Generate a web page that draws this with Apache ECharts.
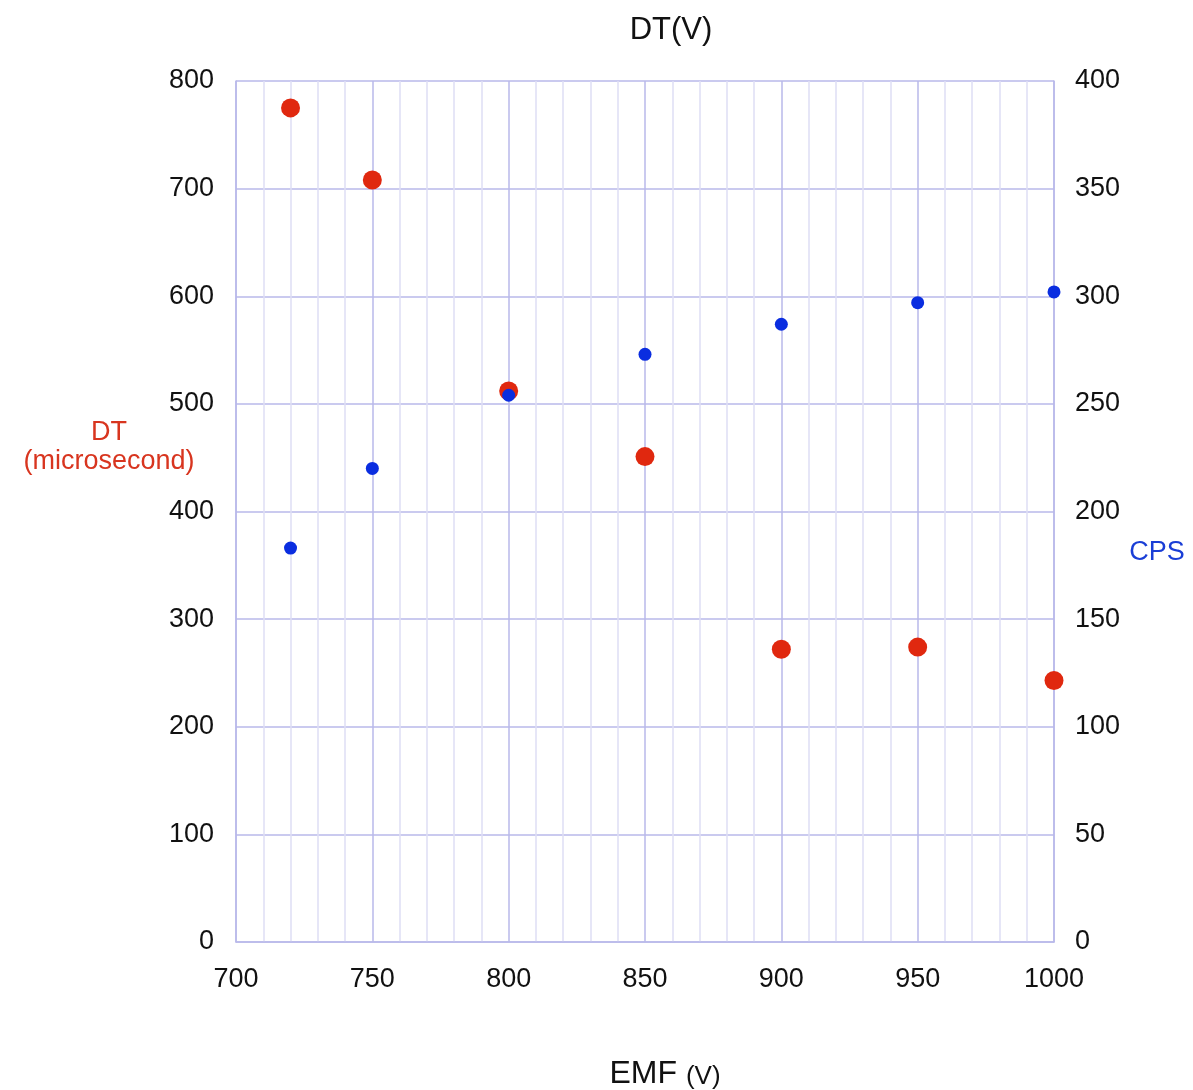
<!DOCTYPE html>
<html>
<head>
<meta charset="utf-8">
<script src="https://cdn.jsdelivr.net/npm/echarts@6/dist/echarts.min.js"></script>
<style>
  html, body { margin: 0; padding: 0; background: #fff; overflow: hidden; }
  #chart { width: 1193px; height: 1090px; }
</style>
</head>
<body>
<div id="chart"></div>
<script>
// EMF (V) values
var emf = [720, 750, 800, 850, 900, 950, 1000];
// DT (microsecond) - left axis
var dtValues = [775, 708, 512, 451, 272, 274, 243];
// CPS - right axis
var cpsValues = [183, 220, 254, 273, 287, 297, 302];

var gridColor = '#b9b9ea';
var minorColor = '#dedef5';
var font = 'Liberation Sans, Arial, sans-serif';

function pairs(xs, ys) {
  var out = [];
  for (var i = 0; i < xs.length; i++) out.push([xs[i], ys[i]]);
  return out;
}

var chart = echarts.init(document.getElementById('chart'));
chart.setOption({
  animation: false,
  backgroundColor: '#fff',
  textStyle: { fontFamily: font },
  title: {
    text: 'DT(V)',
    left: 666,
    textAlign: 'center',
    top: 10,
    textStyle: { fontSize: 31, fontWeight: 'normal', color: '#111', fontFamily: font }
  },
  grid: { left: 236, right: 139, top: 81, bottom: 148, outerBoundsMode: 'none', containLabel: false },
  xAxis: {
    type: 'value',
    min: 700, max: 1000, interval: 50,
    name: 'EMF {s|(V)}',
    nameLocation: 'middle',
    nameGap: 116,
    nameTextStyle: {
      fontSize: 32, color: '#111', fontFamily: font,
      padding: [0, 0, 0, 40],
      rich: { s: { fontSize: 26, color: '#111', fontFamily: font, padding: [6, 0, 0, 0] } }
    },
    axisLine: { show: true, lineStyle: { color: gridColor, width: 1.5 } },
    axisTick: { show: false },
    axisLabel: {
      fontSize: 27, color: '#111', margin: 24, fontFamily: font,
      formatter: function (v) { return String(v); }
    },
    splitLine: { show: true, lineStyle: { color: gridColor, width: 1.5 } },
    minorTick: { show: false, splitNumber: 5 },
    minorSplitLine: { show: true, lineStyle: { color: minorColor, width: 1.5 } }
  },
  yAxis: [{
    type: 'value',
    min: 0, max: 800, interval: 100,
    axisLine: { show: true, lineStyle: { color: gridColor, width: 1.5 } },
    axisTick: { show: false },
    axisLabel: { fontSize: 27, color: '#111', margin: 22, fontFamily: font },
    splitLine: { show: true, lineStyle: { color: gridColor, width: 1.5 } }
  }, {
    type: 'value',
    min: 0, max: 400, interval: 50,
    position: 'right',
    axisLine: { show: true, lineStyle: { color: gridColor, width: 1.5 } },
    axisTick: { show: false },
    axisLabel: { fontSize: 27, color: '#111', margin: 21, fontFamily: font },
    splitLine: { show: false }
  }],
  graphic: [{
    type: 'text',
    style: {
      x: 109, y: 447,
      text: 'DT\n(microsecond)',
      fill: '#d8351f',
      fontSize: 27,
      fontFamily: font,
      align: 'center',
      verticalAlign: 'middle',
      lineHeight: 29
    }
  }, {
    type: 'text',
    style: {
      x: 1157, y: 553,
      text: 'CPS',
      fill: '#1a3ed6',
      fontSize: 27,
      fontFamily: font,
      align: 'center',
      verticalAlign: 'middle'
    }
  }],
  series: [{
    name: 'DT',
    type: 'scatter',
    yAxisIndex: 0,
    symbolSize: 19,
    itemStyle: { color: '#e0280f', opacity: 1 },
    data: pairs(emf, dtValues),
    z: 3
  }, {
    name: 'CPS',
    type: 'scatter',
    yAxisIndex: 1,
    symbolSize: 13,
    itemStyle: { color: '#0a2de0', opacity: 1 },
    data: pairs(emf, cpsValues),
    z: 4
  }]
});
</script>
</body>
</html>
